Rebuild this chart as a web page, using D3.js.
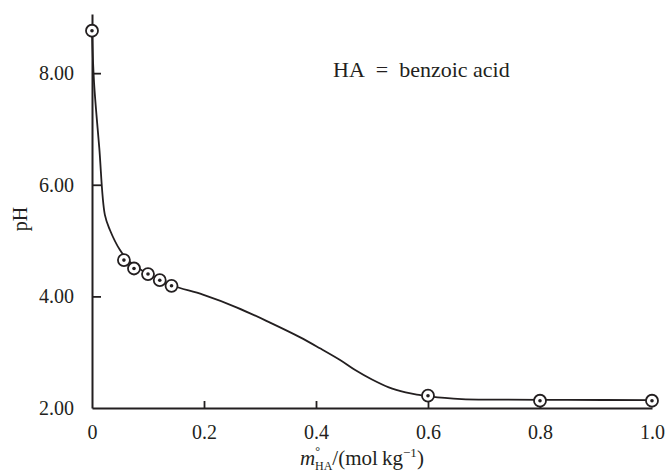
<!DOCTYPE html>
<html>
<head>
<meta charset="utf-8">
<script src="https://cdn.jsdelivr.net/npm/d3@7"></script>
<style>
  body { margin: 0; background: #fff; }
  text { font-family: "Liberation Serif", "Times New Roman", "DejaVu Serif", serif; fill: #231f20; }
</style>
</head>
<body>
<div id="chart"></div>
<script>
// measured points (molality, pH)
var pointM  = [0, 0.057, 0.075, 0.1, 0.121, 0.142, 0.6, 0.8, 1.0];
var pointPH = [8.76, 4.65, 4.50, 4.40, 4.29, 4.19, 2.22, 2.13, 2.13];

// fitted curve
var curveM  = [0, 0.0036, 0.013, 0.023, 0.032, 0.05, 0.065, 0.1, 0.142, 0.198, 0.259, 0.318, 0.371, 0.407, 0.443, 0.47, 0.5, 0.53, 0.56, 0.58, 0.602, 0.63, 0.66, 0.71, 0.85, 1.0];
var curvePH = [8.76, 7.84, 6.66, 5.46, 5.19, 4.83, 4.64, 4.40, 4.20, 4.03, 3.80, 3.53, 3.27, 3.07, 2.86, 2.68, 2.51, 2.37, 2.28, 2.24, 2.21, 2.18, 2.16, 2.15, 2.145, 2.14];

var xTicks = [0, 0.2, 0.4, 0.6, 0.8, 1.0];
var yTicks = [2, 4, 6, 8];

var margin = {top: 14, right: 16, bottom: 66, left: 92},
    width = 668 - margin.left - margin.right,
    height = 474 - margin.top - margin.bottom;

var svg = d3.select("#chart")
  .append("svg")
  .attr("width", 668)
  .attr("height", 474)
  .append("g")
  .attr("transform", "translate(" + margin.left + "," + margin.top + ")");

var x = d3.scaleLinear().domain([0, 1]).range([0, 560]);
var y = d3.scaleLinear().domain([2, 9.06]).range([height, 0]);

var serif = "'Liberation Serif', 'Times New Roman', 'DejaVu Serif', serif";

// X axis, ticks pointing inward
var xAxis = svg.append("g")
  .attr("transform", "translate(0," + height + ")")
  .call(d3.axisBottom(x).tickValues(xTicks).tickSize(-7).tickSizeOuter(0)
        .tickFormat(function(d) { return d === 0 ? "0" : d3.format(".1f")(d); }));
xAxis.attr("font-family", serif).attr("font-size", 20);
xAxis.select(".domain").attr("stroke", "#231f20").attr("stroke-width", 2);
xAxis.selectAll(".tick line").attr("stroke", "#231f20").attr("stroke-width", 1.8)
  .filter(function(d) { return d === 0 || d === 1; }).remove();
xAxis.selectAll(".tick text")
  .attr("y", 17).attr("dy", "0.71em").attr("fill", "#231f20");

// Y axis
var yAxis = svg.append("g")
  .call(d3.axisLeft(y).tickValues(yTicks).tickSize(-9).tickSizeOuter(0)
        .tickFormat(d3.format(".2f")));
yAxis.attr("font-family", serif).attr("font-size", 20);
yAxis.select(".domain").attr("stroke", "#231f20").attr("stroke-width", 2);
yAxis.selectAll(".tick line").attr("stroke", "#231f20").attr("stroke-width", 1.8)
  .filter(function(d) { return d === 2; }).remove();
yAxis.selectAll(".tick text")
  .attr("x", -18).attr("fill", "#231f20");

// curve
var line = d3.line()
  .x(function(d) { return x(d[0]); })
  .y(function(d) { return y(d[1]); })
  .curve(d3.curveCatmullRom.alpha(0.5));

svg.append("path")
  .datum(curveM.map(function(m, i) { return [m, curvePH[i]]; }))
  .attr("d", line)
  .attr("fill", "none")
  .attr("stroke", "#231f20")
  .attr("stroke-width", 1.8);

// points: open circle with a dot
var pts = pointM.map(function(m, i) { return [m, pointPH[i]]; });
svg.append("g").selectAll(null)
  .data(pts).enter()
  .append("circle")
  .attr("cx", function(d) { return x(d[0]); })
  .attr("cy", function(d) { return y(d[1]); })
  .attr("r", 6)
  .attr("fill", "#fff")
  .attr("stroke", "#231f20")
  .attr("stroke-width", 1.8);
svg.append("g").selectAll(null)
  .data(pts).enter()
  .append("circle")
  .attr("cx", function(d) { return x(d[0]); })
  .attr("cy", function(d) { return y(d[1]); })
  .attr("r", 1.8)
  .attr("fill", "#231f20");

// annotation
svg.append("text")
  .attr("x", 241)
  .attr("y", 63)
  .style("font-size", "22px")
  .text("HA\u2002=\u2002benzoic acid");

// y label
svg.append("text")
  .attr("transform", "rotate(-90)")
  .attr("x", -(219 - margin.top))
  .attr("y", 27 - margin.left)
  .attr("text-anchor", "middle")
  .style("font-size", "20px")
  .text("pH");

// x label
var xl = svg.append("text")
  .attr("x", 208)
  .attr("y", 451)
  .style("font-size", "21px");
xl.append("tspan").style("font-style", "italic").text("m");
xl.append("tspan").attr("dy", -10).style("font-size", "12px").text("\u00b0");
xl.append("tspan").attr("dx", -5).attr("dy", 15).style("font-size", "12px").text("HA");
xl.append("tspan").attr("dy", -5).text("/(mol\u2009kg");
xl.append("tspan").attr("dy", -8).style("font-size", "13px").text("\u22121");
xl.append("tspan").attr("dy", 8).text(")");
</script>
</body>
</html>
